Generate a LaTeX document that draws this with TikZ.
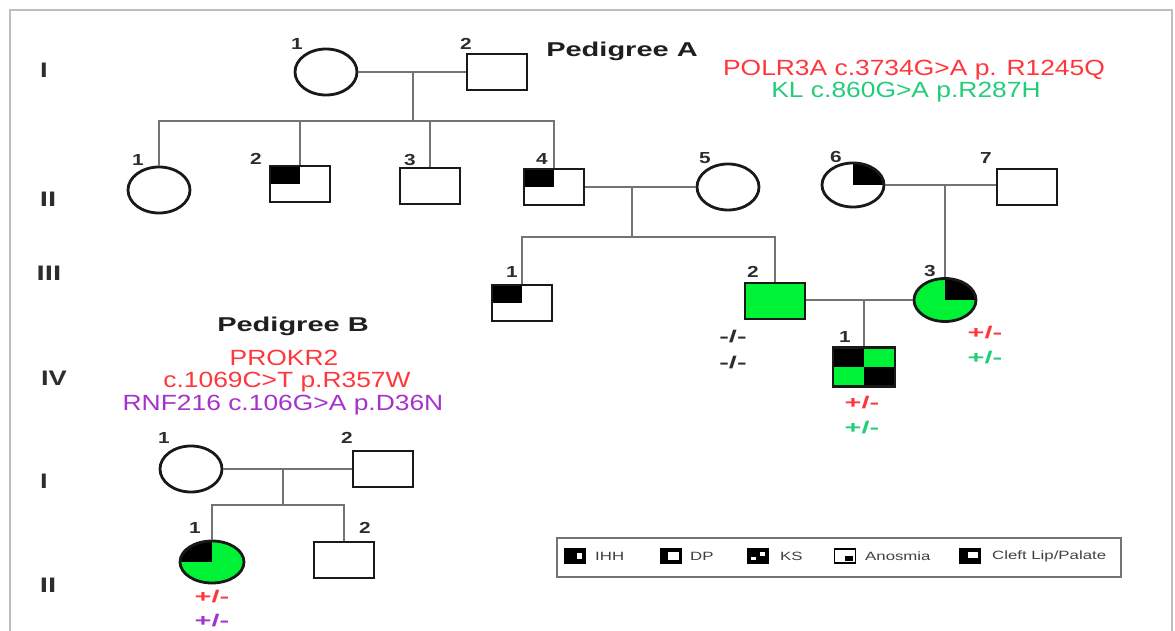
\documentclass[tikz,border=0pt]{standalone}
\usepackage{fontspec}
\setmainfont{Liberation Sans}
\usetikzlibrary{shapes.geometric}
\definecolor{gr}{RGB}{0,242,55}
\definecolor{tred}{RGB}{255,55,60}
\definecolor{tgreen}{RGB}{35,205,120}
\definecolor{tpurple}{RGB}{165,50,205}
\definecolor{conncol}{RGB}{115,115,115}
\definecolor{symcol}{RGB}{25,25,25}
\definecolor{lab}{RGB}{45,45,45}
\definecolor{framecol}{RGB}{190,190,190}
\newcommand{\sx}[2]{\scalebox{#1}[1]{#2}}
\tikzset{
  conn/.style={draw=conncol, line width=2pt},
  sym/.style={draw=symcol, line width=2.8pt, inner sep=0pt, fill=white},
  male/.style={sym, rectangle, minimum width=60pt, minimum height=36pt},
  female/.style={sym, ellipse, minimum width=62pt, minimum height=46pt},
  qul/.style={path picture={\fill[black] (path picture bounding box.north west) rectangle (path picture bounding box.center);}},
  qur/.style={path picture={\fill[black] (path picture bounding box.north east) rectangle (path picture bounding box.center);}},
  checker/.style={fill=gr, path picture={\fill[black] (path picture bounding box.north west) rectangle (path picture bounding box.center);
     \fill[black] (path picture bounding box.south east) rectangle (path picture bounding box.center);}},
  numlab/.style={font=\fontsize{16}{16}\selectfont\bfseries, text=lab, inner sep=0pt},
  gen/.style={font=\fontsize{21}{21}\selectfont\bfseries, text=lab, inner sep=0pt},
  titlelab/.style={font=\fontsize{20}{20}\selectfont\bfseries, text=black!88, inner sep=0pt},
  mut/.style={font=\fontsize{22}{22}\selectfont, inner sep=0pt},
  geno/.style={font=\fontsize{17}{17}\selectfont\bfseries, inner sep=0pt},
  legtext/.style={font=\fontsize{12}{12}\selectfont, text=black!75, inner sep=0pt, anchor=west},
  icon/.style={draw=black, line width=1.8pt, minimum width=21pt, minimum height=14pt, inner sep=0pt, fill=white},
  legbox/.style={draw=black!55, line width=2pt, minimum width=564pt, minimum height=39pt, inner sep=0pt},
  frame/.style={draw=framecol, line width=2pt}
}
\begin{document}
\begin{tikzpicture}[x=1pt,y=-1pt]
\useasboundingbox (0,0) rectangle (1175,631);
\draw[frame] (10,640) -- (10,10) -- (1172,10) -- (1172,640);

% generation labels
\node[gen] (gA1) at (44,70) {\sx{1.3}{I}};
\node[gen] (gA2) at (48,199) {\sx{1.4}{II}};
\node[gen] (gA3) at (49,273) {\sx{1.4}{III}};
\node[gen] (gA4) at (54,378) {\sx{1.3}{IV}};
\node[gen] (gB1) at (44,481) {\sx{1.3}{I}};
\node[gen] (gB2) at (48,585) {\sx{1.4}{II}};

% titles and mutations
\node[titlelab] (tA) at (622,51) {\sx{1.45}{Pedigree A}};
\node[mut, text=tred] (mutA1) at (914,70) {\sx{1.2}{POLR3A c.3734G>A p. R1245Q}};
\node[mut, text=tgreen] (mutA2) at (906,92) {\sx{1.2}{KL c.860G>A p.R287H}};
\node[titlelab] (tB) at (293,326) {\sx{1.45}{Pedigree B}};
\node[mut, text=tred] (mutB1) at (284,358) {\sx{1.2}{PROKR2}};
\node[mut, text=tred] (mutB2) at (287,382) {\sx{1.2}{c.1069C>T p.R357W}};
\node[mut, text=tpurple] (mutB3) at (283,405) {\sx{1.2}{RNF216 c.106G>A p.D36N}};

% Pedigree A individuals
\node[female] (AI1) at (326,72) {};
\node[male] (AI2) at (497,72) {};
\node[female] (AII1) at (159,190) {};
\node[male, qul] (AII2) at (300,184) {};
\node[male] (AII3) at (430,186) {};
\node[male, qul] (AII4) at (554,187) {};
\node[female] (AII5) at (728,187) {};
\node[female, qur, minimum height=44pt] (AII6) at (853,185) {};
\node[male] (AII7) at (1027,187) {};
\node[male, qul] (AIII1) at (522,303) {};
\node[male, fill=gr] (AIII2) at (775,301) {};
\node[female, fill=gr, qur, minimum height=43pt] (AIII3) at (945,300) {};
\node[male, checker, minimum width=62pt, minimum height=39pt] (AIV1) at (864,367) {};

% Pedigree A numbers
\node[numlab] (nAI1) at (297,44) {\sx{1.3}{1}};
\node[numlab] (nAI2) at (466,44) {\sx{1.3}{2}};
\node[numlab] (nAII1) at (138,160) {\sx{1.3}{1}};
\node[numlab] (nAII2) at (256,159) {\sx{1.3}{2}};
\node[numlab] (nAII3) at (410,160) {\sx{1.3}{3}};
\node[numlab] (nAII4) at (542,159) {\sx{1.3}{4}};
\node[numlab] (nAII5) at (705,158) {\sx{1.3}{5}};
\node[numlab] (nAII6) at (836,157) {\sx{1.3}{6}};
\node[numlab] (nAII7) at (986,158) {\sx{1.3}{7}};
\node[numlab] (nAIII1) at (512,272) {\sx{1.3}{1}};
\node[numlab] (nAIII2) at (753,272) {\sx{1.3}{2}};
\node[numlab] (nAIII3) at (930,271) {\sx{1.3}{3}};
\node[numlab] (nAIV1) at (845,337) {\sx{1.3}{1}};

% genotypes A
\node[geno, text=lab] (gtA2a) at (733,337) {\sx{1.7}{-/-}};
\node[geno, text=lab] (gtA2b) at (733,363) {\sx{1.7}{-/-}};
\node[geno, text=tred] (gtA3a) at (985,333) {\sx{1.7}{+/-}};
\node[geno, text=tgreen] (gtA3b) at (985,358) {\sx{1.7}{+/-}};
\node[geno, text=tred] (gtA4a) at (862,403) {\sx{1.7}{+/-}};
\node[geno, text=tgreen] (gtA4b) at (862,428) {\sx{1.7}{+/-}};

% Pedigree A connectors
\coordinate (mA) at (413,72);
\coordinate (sA) at (413,121);
\draw[conn] (AI1.east) -- (AI2.west);
\draw[conn] (mA) -- (sA);
\draw[conn] (AII1.north) -- (AII1.north |- sA) -- (AII4.north |- sA) -- (AII4.north);
\draw[conn] (AII2.north) -- (AII2.north |- sA);
\draw[conn] (AII3.north) -- (AII3.north |- sA);
\coordinate (mB) at (632,187);
\coordinate (sB) at (632,237);
\draw[conn] (AII4.east) -- (AII5.west);
\draw[conn] (mB) -- (sB);
\draw[conn] (AIII1.north) -- (AIII1.north |- sB) -- (AIII2.north |- sB) -- (AIII2.north);
\coordinate (mC) at (945,185);
\draw[conn] (AII6.east) -- (AII6.east -| AII7.west);
\draw[conn] (mC) -- (AIII3.north);
\coordinate (mD) at (864,300);
\draw[conn] (AIII2.east |- mD) -- (AIII3.west);
\draw[conn] (mD) -- (AIV1.north);

% Pedigree B
\node[female] (BI1) at (191,469) {};
\node[male] (BI2) at (383,469) {};
\node[female, fill=gr, qul, minimum width=64pt, minimum height=42pt] (BII1) at (212,562) {};
\node[male] (BII2) at (344,560) {};
\node[numlab] (nBI1) at (164,438) {\sx{1.3}{1}};
\node[numlab] (nBI2) at (347,438) {\sx{1.3}{2}};
\node[numlab] (nBII1) at (195,528) {\sx{1.3}{1}};
\node[numlab] (nBII2) at (365,528) {\sx{1.3}{2}};
\node[geno, text=tred] (gtB1) at (212,597) {\sx{1.7}{+/-}};
\node[geno, text=tpurple] (gtB2) at (212,621) {\sx{1.7}{+/-}};
\coordinate (mE) at (283,469);
\coordinate (sE) at (283,505);
\draw[conn] (BI1.east) -- (BI2.west);
\draw[conn] (mE) -- (sE);
\draw[conn] (BII1.north) -- (BII1.north |- sE) -- (BII2.north |- sE) -- (BII2.north);

% legend
\node[legbox] (leg) at (839,557) {};
\node[icon, fill=black] (iIHH) at (575,556) {};
\fill[white] ([shift={(2,3)}]iIHH.center) rectangle ([shift={(7,-3)}]iIHH.center);
\node[legtext] (lIHH) at (595,556) {\sx{1.4}{IHH}};
\node[icon, fill=black] (iDP) at (671,556) {};
\fill[white] ([shift={(-3,-4)}]iDP.center) rectangle ([shift={(8,4)}]iDP.center);
\node[legtext] (lDP) at (690,556) {\sx{1.4}{DP}};
\node[icon, fill=black] (iKS) at (758,556) {};
\fill[white] ([shift={(2,-4)}]iKS.center) rectangle ([shift={(7,0)}]iKS.center);
\fill[white] ([shift={(-7,1)}]iKS.center) rectangle ([shift={(-2,4)}]iKS.center);
\node[legtext] (lKS) at (780,556) {\sx{1.4}{KS}};
\node[icon] (iAn) at (845,556) {};
\fill[black] ([shift={(0,0)}]iAn.center) rectangle ([shift={(8,5)}]iAn.center);
\node[legtext] (lAn) at (865,556) {\sx{1.4}{Anosmia}};
\node[icon, fill=black] (iCl) at (970,556) {};
\fill[white] ([shift={(-2,-4)}]iCl.center) rectangle ([shift={(8,2)}]iCl.center);
\node[legtext] (lCl) at (992,556) {\sx{1.4}{Cleft Lip/Palate}};
\end{tikzpicture}
\end{document}
